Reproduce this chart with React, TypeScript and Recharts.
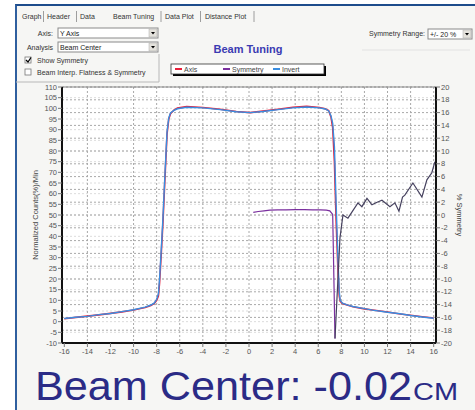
import React from 'react';
import { LineChart, Line, XAxis, YAxis, CartesianGrid, ReferenceLine } from 'recharts';

// ---- data ----
const xTicks = [-16, -14, -12, -10, -8, -6, -4, -2, 0, 2, 4, 6, 8, 10, 12, 14, 16];
const leftTicks = [-10, -5, 0, 5, 10, 15, 20, 25, 30, 35, 40, 45, 50, 55, 60, 65, 70, 75, 80, 85, 90, 95, 100, 105, 110];
const rightTicks = [-20, -18, -16, -14, -12, -10, -8, -6, -4, -2, 0, 2, 4, 6, 8, 10, 12, 14, 16, 18, 20];

const profilePositions = [-16, -15, -14, -13, -12, -11, -10, -9, -8.5, -8.2, -8.0, -7.85, -7.75, -7.6, -7.45, -7.3, -7.1, -6.95, -6.8, -6.5, -6.2, -5.4, -4.0, -2.5, -1.1, 0.1, 1.2, 2.7, 3.8, 5.0, 6.1, 6.6, 6.9, 7.1, 7.25, 7.4, 7.55, 7.7, 7.82, 7.9, 8.1, 8.5, 9, 10, 10.7, 12, 13.1, 14, 15, 16];
const axisValues = [1.4, 2.0, 2.6, 3.2, 3.9, 4.6, 5.5, 6.6, 7.6, 8.6, 10, 12, 18, 32, 47, 65, 88, 95, 97.5, 99.2, 100.1, 100.8, 100.4, 99.6, 98.5, 98.0, 98.7, 99.7, 100.5, 100.9, 100.4, 99.8, 99.0, 96, 91, 75, 47, 25, 12, 9.5, 8.5, 7.8, 7.0, 6.0, 5.5, 4.5, 3.6, 3.0, 2.3, 1.7];
const invertValues = [1.5, 2.1, 2.5, 3.3, 3.8, 4.7, 5.6, 6.8, 7.8, 8.8, 10.5, 13, 20, 34, 49, 67, 89, 95.5, 97.8, 99.0, 99.8, 100.5, 100.2, 99.4, 98.4, 98.0, 98.5, 99.5, 100.2, 100.6, 100.2, 99.7, 98.8, 96.5, 93, 82, 55, 30, 14, 10, 8.7, 7.9, 7.1, 6.1, 5.4, 4.4, 3.7, 2.9, 2.2, 1.6];

const symmetryPositions = [0.37, 0.8, 1.3, 1.8, 2.5, 3.2, 4, 4.8, 5.5, 6.2, 6.7, 7.0, 7.25, 7.45];
const symmetryValues = [0.4, 0.55, 0.65, 0.75, 0.8, 0.8, 0.85, 0.85, 0.8, 0.8, 0.75, 0.65, 0.1, -19.3];
const symmetryTailPositions = [7.45, 7.88, 8.14, 8.57, 9.44, 9.78, 10.22, 10.65, 11.1, 11.52, 12.21, 12.64, 12.99, 13.3, 13.5, 14.2, 14.98, 15.41, 15.84, 16.1];
const symmetryTailValues = [-19.3, -3.6, 0, -0.5, 1.9, 1.3, 2.6, 1.6, 2.0, 2.3, 1.3, 1.9, 0.6, 2.8, 3.1, 5.0, 2.8, 5.5, 6.6, 8.3];

const legendItems = [
  { name: 'Axis', color: '#e8203a' },
  { name: 'Symmetry', color: '#7a2f9e' },
  { name: 'Invert', color: '#3a8de0' },
];

const tabs = ['Graph', 'Header', 'Data', 'Beam Tuning', 'Data Plot', 'Distance Plot'];

const axisData = profilePositions.map((x, i) => ({ x, v: axisValues[i] }));
const invertData = profilePositions.map((x, i) => ({ x, v: invertValues[i] }));
const symmetryData = symmetryPositions.map((x, i) => ({ x, v: symmetryValues[i] }));
const symmetryTailData = symmetryTailPositions.map((x, i) => ({ x, v: symmetryTailValues[i] }));

const UI_FONT = '"Liberation Sans", Arial, sans-serif';
const tickStyle = { fill: '#555', fontSize: 7.5, fontFamily: UI_FONT };

function Combo({ x, y, w, h, text }: { x: number; y: number; w: number; h: number; text: string }) {
  return (
    <g>
      <rect x={x} y={y} width={w} height={h} fill="#fff" stroke="#8a8a8a" strokeWidth={1} />
      <rect x={x + w - 9} y={y + 1} width={8} height={h - 2} fill="#e4e2dc" stroke="#aaa" strokeWidth={0.5} />
      <path d={`M${x + w - 7} ${y + h / 2 - 1} L${x + w - 3} ${y + h / 2 - 1} L${x + w - 5} ${y + h / 2 + 1.5} Z`} fill="#000" />
      <text x={x + 2} y={y + h - 2.5} fontSize={7} fill="#222" fontFamily={UI_FONT}>{text}</text>
    </g>
  );
}

export default function App() {
  const tabX = [22, 47, 80, 113, 165, 205];
  const sepX = [43.5, 76.5, 161, 200.5, 254];
  return (
    <div style={{ position: 'absolute', left: 0, top: 0, width: 475, height: 410, background: '#fff', overflow: 'hidden' }}>
      <div style={{ position: 'absolute', left: 15, top: 4, width: 460, height: 406, background: '#f6f6f4', borderLeft: '2px solid #2f5f9f', borderTop: '2px solid #1d4c8c', boxSizing: 'border-box' }} />
      <svg width={475} height={410} style={{ position: 'absolute', left: 0, top: 0 }}>
        {tabs.map((t, i) => (
          <text key={t} x={tabX[i]} y={19} fontSize={7} fill="#333" fontFamily={UI_FONT}>{t}</text>
        ))}
        {sepX.map((s) => (
          <line key={s} x1={s} x2={s} y1={11} y2={22} stroke="#888" strokeWidth={0.8} />
        ))}
        <text x={53} y={35.5} fontSize={7} fill="#333" textAnchor="end" fontFamily={UI_FONT}>Axis:</text>
        <Combo x={58} y={28} w={100} h={10} text="Y Axis" />
        <text x={53} y={49.5} fontSize={7} fill="#333" textAnchor="end" fontFamily={UI_FONT}>Analysis</text>
        <Combo x={58} y={42} w={100} h={10} text="Beam Center" />
        <rect x={25} y={57} width={6} height={6} fill="#fff" stroke="#777" strokeWidth={0.8} />
        <path d="M26 60 L28 62 L31 57.5" stroke="#000" strokeWidth={1.3} fill="none" />
        <text x={37} y={63} fontSize={7} fill="#333" fontFamily={UI_FONT}>Show Symmetry</text>
        <rect x={25} y={69} width={6} height={6} fill="#fff" stroke="#777" strokeWidth={0.8} />
        <text x={37} y={75} fontSize={7} fill="#333" fontFamily={UI_FONT}>Beam Interp. Flatness &amp; Symmetry</text>
        <line x1={159} x2={159} y1={54} y2={82} stroke="#b8b8b8" strokeWidth={1} />
        <line x1={16} x2={159} y1={82} y2={82} stroke="#b8b8b8" strokeWidth={1} />
        <text x={425} y={35.5} fontSize={7} fill="#333" textAnchor="end" fontFamily={UI_FONT}>Symmetry Range:</text>
        <Combo x={428} y={29} w={44} h={10} text="+/- 20 %" />
        <line x1={362} x2={470} y1={50} y2={50} stroke="#e2e2e2" strokeWidth={1} />
        <text x={248} y={53} fontSize={11} fontWeight="bold" fill="#3b3bb2" textAnchor="middle" fontFamily={UI_FONT}>Beam Tuning</text>
        {/* legend */}
        <rect x={173} y={66} width={153} height={10} fill="#000" />
        <rect x={171} y={64} width={153} height={10} fill="#fff" stroke="#333" strokeWidth={0.8} />
        {legendItems.map((it, i) => {
          const lx = [175, 223, 273][i];
          return (
            <g key={it.name}>
              <line x1={lx} x2={lx + 7} y1={69} y2={69} stroke={it.color} strokeWidth={2} />
              <text x={lx + 9} y={71.5} fontSize={7} fill="#444" fontFamily={UI_FONT}>{it.name}</text>
            </g>
          );
        })}
        <text x={38} y={215} fontSize={7.5} fill="#444" textAnchor="middle" transform="rotate(-90 38 215)" fontFamily={UI_FONT}>Normalized Counts(%)/Min</text>
        <text x={457} y={215} fontSize={7.5} fill="#444" textAnchor="middle" transform="rotate(90 457 215)" fontFamily={UI_FONT}>% Symmetry</text>
        <text x={35} y={400} fontSize={40} fill="#2b2b86" textLength={377} lengthAdjust="spacingAndGlyphs" fontFamily={UI_FONT}>Beam Center: -0.02</text>
        <text x={413} y={400} fontSize={24} fill="#2b2b86" textLength={45} lengthAdjust="spacingAndGlyphs" fontFamily={UI_FONT}>CM</text>
      </svg>
      <div style={{ position: 'absolute', left: 0, top: 0 }}>
        <LineChart width={475} height={410} margin={{ top: 87, right: 19, bottom: 51, left: 36 }}>
          <CartesianGrid yAxisId="left" vertical={false} stroke="#dcdcdc" strokeDasharray="2 2" fill="#ffffff" horizontalValues={leftTicks} />
          <CartesianGrid yAxisId="right" stroke="#a8a8a8" strokeDasharray="2 2" horizontalValues={rightTicks} verticalValues={xTicks} />
          <XAxis dataKey="x" type="number" domain={[-16.2, 16.2]} ticks={xTicks} allowDataOverflow height={16}
            tick={tickStyle} tickSize={4} tickMargin={2} axisLine={{ stroke: '#111', strokeWidth: 2 }} tickLine={{ stroke: '#777' }} />
          <YAxis yAxisId="left" type="number" domain={[-10, 110]} ticks={leftTicks} width={26} interval={0}
            tick={tickStyle} tickSize={4} tickMargin={1} axisLine={{ stroke: '#111', strokeWidth: 2 }} tickLine={{ stroke: '#777' }} />
          <YAxis yAxisId="right" orientation="right" type="number" domain={[-20, 20]} ticks={rightTicks} width={20} interval={0}
            tick={tickStyle} tickSize={4} tickMargin={1} axisLine={{ stroke: '#111', strokeWidth: 2 }} tickLine={{ stroke: '#777' }} />
          <ReferenceLine yAxisId="left" y={110} stroke="#888" strokeWidth={1} />
          <Line yAxisId="left" data={axisData} dataKey="v" name="Axis" stroke="#e8203a" strokeWidth={1.6} dot={false} isAnimationActive={false} type="linear" />
          <Line yAxisId="left" data={invertData} dataKey="v" name="Invert" stroke="#3a8de0" strokeWidth={1.4} dot={false} isAnimationActive={false} type="linear" />
          <Line yAxisId="right" data={symmetryData} dataKey="v" name="Symmetry" stroke="#7a2f9e" strokeWidth={1.2} dot={false} isAnimationActive={false} type="linear" />
          <Line yAxisId="right" data={symmetryTailData} dataKey="v" name="Symmetry tail" legendType="none" stroke="#45405e" strokeWidth={1.2} dot={false} isAnimationActive={false} type="linear" />
        </LineChart>
      </div>
    </div>
  );
}
